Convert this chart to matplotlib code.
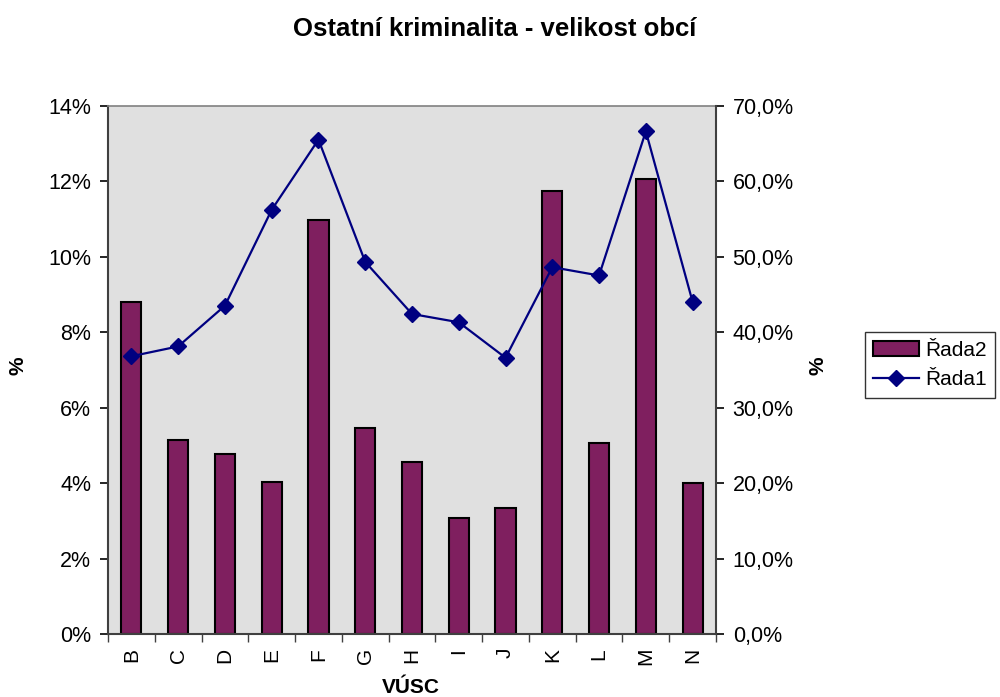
import matplotlib
matplotlib.use("Agg")
import matplotlib.pyplot as plt
from matplotlib.ticker import FuncFormatter, FixedLocator
import numpy as np

plt.rcParams['font.family'] = ['Liberation Sans', 'DejaVu Sans']

categories = ['B', 'C', 'D', 'E', 'F', 'G', 'H', 'I', 'J', 'K', 'L', 'M', 'N']
rada2 = [8.80, 5.15, 4.77, 4.03, 10.98, 5.47, 4.56, 3.08, 3.35, 11.73, 5.05, 12.05, 3.99]
rada1 = [36.8, 38.1, 43.5, 56.2, 65.5, 49.3, 42.4, 41.3, 36.6, 48.6, 47.5, 66.6, 44.0]
left_ticks = [0, 2, 4, 6, 8, 10, 12, 14]
right_ticks = [0, 10, 20, 30, 40, 50, 60, 70]

fig = plt.figure(figsize=(10, 6.97), dpi=100)
ax = fig.add_axes([0.108, 0.0904, 0.608, 0.758])
ax.set_facecolor('#E0E0E0')
x = np.arange(len(categories))
bars = ax.bar(x, rada2, width=0.43, color='#7F1F5F', edgecolor='black', linewidth=1.5, zorder=2, label='Řada2')
ax.set_xlim(-0.5, len(categories) - 0.5)
ax.set_ylim(0, 14)
ax.yaxis.set_major_locator(FixedLocator(left_ticks))
ax.yaxis.set_major_formatter(FuncFormatter(lambda v, p: f"{int(round(v))}%"))
ax.set_xticks(x)
ax.set_xticklabels(categories, rotation=90, fontsize=15)
ax.tick_params(axis='x', length=0, pad=10)
ax.set_xticks(np.arange(-0.5, len(categories) + 0.5, 1), minor=True)
ax.tick_params(axis='x', which='minor', length=6, width=1, color='#404040', direction='out')
ax.tick_params(axis='y', labelsize=15.5, length=6, width=1.2, direction='out', pad=6)
for s in ['left', 'bottom']:
    ax.spines[s].set_color('#404040')
    ax.spines[s].set_linewidth(1.5)
ax.spines['top'].set_color('#808080')
ax.spines['top'].set_linewidth(1.2)
ax.spines['right'].set_visible(False)

ax2 = ax.twinx()
line, = ax2.plot(x, rada1, color='#000080', marker='D', markersize=8, linewidth=1.6, zorder=3, label='Řada1')
ax2.set_ylim(0, 70)
ax2.yaxis.set_major_locator(FixedLocator(right_ticks))
ax2.yaxis.set_major_formatter(FuncFormatter(lambda v, p: f"{v:.1f}%".replace('.', ',')))
ax2.tick_params(axis='y', labelsize=15.5, length=6, width=1.2, direction='out', pad=6)
ax2.spines['right'].set_color('#404040')
ax2.spines['right'].set_linewidth(1.5)
for s in ['left', 'top', 'bottom']:
    ax2.spines[s].set_visible(False)

fig.text(0.018, 0.475, '%', rotation=90, ha='center', va='center', fontsize=15, fontweight='bold')
fig.text(0.818, 0.475, '%', rotation=90, ha='center', va='center', fontsize=15, fontweight='bold')
fig.text(0.411, 0.013, 'VÚSC', ha='center', va='center', fontsize=15, fontweight='bold')

fig.text(0.495, 0.958, 'Ostatní kriminalita - velikost obcí', ha='center', va='center',
         fontsize=18.5, fontweight='bold')

leg = fig.legend([bars, line], ['Řada2', 'Řada1'], loc='upper left',
                 bbox_to_anchor=(0.865, 0.523), fontsize=15, frameon=True,
                 fancybox=False, edgecolor='black', borderpad=0.4, handlelength=2.2,
                 labelspacing=0.5, handletextpad=0.3, borderaxespad=0)
leg.get_frame().set_linewidth(1.0)

fig.savefig('out.png', dpi=100)
